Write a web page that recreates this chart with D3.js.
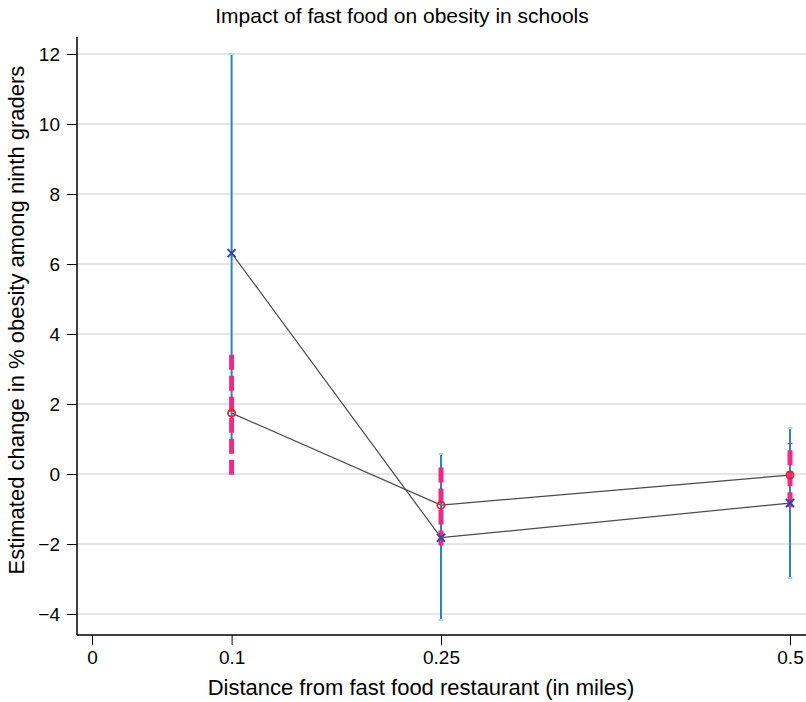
<!DOCTYPE html>
<html>
  <head>
    <style>
      body, html { margin: 0; padding: 0; background: #fff; }
      svg { display: block; font-family: 'Liberation Sans', Arial, sans-serif; }
    </style>
  </head>
  <body>
    <svg id="svg" width="806" height="702"></svg>
    <script src="https://cdn.jsdelivr.net/npm/d3@7"></script>
    <script>
      const distances = [0.1, 0.25, 0.5];
      const xTicks = [0, 0.1, 0.25, 0.5];
      const yTicks = [-4, -2, 0, 2, 4, 6, 8, 10, 12];

      // series drawn with the x marker (blue CI)
      const crossEst = [6.31, -1.82, -0.83];
      const crossLo = [0.62, -4.17, -2.97];
      const crossHi = [12.0, 0.57, 1.31];

      // series drawn with the hollow circle (pink dashed CI)
      const circleEst = [1.74, -0.89, -0.03];
      const circleLo = [-0.02, -2.04, -0.95];
      const circleHi = [3.5, 0.23, 0.89];

      const svg = d3.select('#svg');
      const xScale = d3.scaleLinear().domain([0, 0.5]).range([92, 790]);
      const yScale = d3.scaleLinear().domain([-4, 12]).range([614, 54]);
      const plotLeft = 77, plotRight = 806, plotTop = 37, plotBottom = 635;

      // grid
      svg.append('g')
        .selectAll('line')
        .data(yTicks)
        .join('line')
        .attr('x1', plotLeft).attr('x2', plotRight)
        .attr('y1', (d) => yScale(d)).attr('y2', (d) => yScale(d))
        .attr('stroke', '#cbcbcb')
        .attr('stroke-width', 1);

      // axes
      const yAxis = d3.axisLeft(yScale)
        .tickValues(yTicks)
        .tickSize(10)
        .tickPadding(7)
        .tickFormat((d) => (d < 0 ? '\u2212' + Math.abs(d) : d));
      const yg = svg.append('g').attr('transform', `translate(${plotLeft},0)`).call(yAxis);
      yg.select('.domain').remove();
      yg.append('line').attr('x1', 0).attr('x2', 0).attr('y1', plotTop).attr('y2', plotBottom)
        .attr('stroke', '#000').attr('stroke-width', 1.5);

      const xAxis = d3.axisBottom(xScale)
        .tickValues(xTicks)
        .tickSize(10)
        .tickPadding(6)
        .tickFormat((d) => d);
      const xg = svg.append('g').attr('transform', `translate(0,${plotBottom})`).call(xAxis);
      xg.select('.domain').remove();
      xg.append('line').attr('x1', plotLeft).attr('x2', plotRight).attr('y1', 0).attr('y2', 0)
        .attr('stroke', '#000').attr('stroke-width', 1.5);

      svg.selectAll('.tick text').attr('font-size', 19).attr('fill', '#000')
        .attr('font-family', "'Liberation Sans', Arial, sans-serif");
      svg.selectAll('.tick line').attr('stroke', '#000').attr('stroke-width', 1);

      // connecting lines
      const linegen = d3.line()
        .x((d, i) => xScale(distances[i]))
        .y((d) => yScale(d));
      [crossEst, circleEst].forEach((s) => {
        svg.append('path')
          .attr('d', linegen(s))
          .attr('fill', 'none')
          .attr('stroke', '#4a4a4a')
          .attr('stroke-width', 1.2);
      });

      // blue CIs
      const ci = svg.append('g');
      distances.forEach((d, i) => {
        const x = xScale(d);
        ci.append('line')
          .attr('x1', x).attr('x2', x)
          .attr('y1', yScale(crossLo[i])).attr('y2', yScale(crossHi[i]))
          .attr('stroke', '#2b82c4').attr('stroke-width', 2);
        [crossLo[i], crossHi[i]].forEach((v) => {
          ci.append('line')
            .attr('x1', x - 2.5).attr('x2', x + 2.5)
            .attr('y1', yScale(v)).attr('y2', yScale(v))
            .attr('stroke', '#a9d8ec').attr('stroke-width', 2);
        });
      });

      // pink dashed CIs
      distances.forEach((d, i) => {
        const x = xScale(d);
        ci.append('line')
          .attr('x1', x).attr('x2', x)
          .attr('y1', yScale(circleLo[i])).attr('y2', yScale(circleHi[i]))
          .attr('stroke', '#ee2a87').attr('stroke-width', 5)
          .attr('stroke-dasharray', '15,6');
      });

      // markers
      const cs = 4;
      distances.forEach((d, i) => {
        const x = xScale(d), y = yScale(crossEst[i]);
        svg.append('path')
          .attr('d', `M${x - cs},${y - cs}L${x + cs},${y + cs}M${x - cs},${y + cs}L${x + cs},${y - cs}`)
          .attr('stroke', '#3447a0').attr('stroke-width', 2).attr('fill', 'none');
      });
      svg.append('g')
        .selectAll('circle')
        .data(circleEst)
        .join('circle')
        .attr('cx', (d, i) => xScale(distances[i]))
        .attr('cy', (d) => yScale(d))
        .attr('r', 3.6)
        .attr('fill', 'none')
        .attr('stroke', '#e8202a')
        .attr('stroke-width', 1.8);

      // titles
      svg.append('text')
        .attr('x', 402).attr('y', 23)
        .attr('text-anchor', 'middle')
        .attr('font-size', 21)
        .text('Impact of fast food on obesity in schools');
      svg.append('text')
        .attr('x', 421).attr('y', 695)
        .attr('text-anchor', 'middle')
        .attr('font-size', 22)
        .text('Distance from fast food restaurant (in miles)');
      svg.append('text')
        .attr('transform', 'translate(24,320) rotate(-90)')
        .attr('text-anchor', 'middle')
        .attr('font-size', 22)
        .text('Estimated change in % obesity among ninth graders');
    </script>
  </body>
</html>
